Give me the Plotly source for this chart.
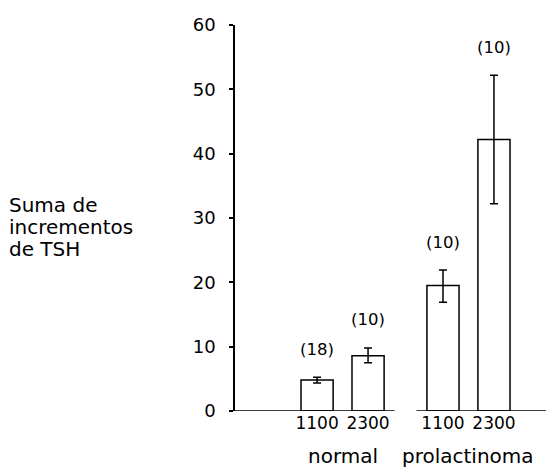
import plotly.graph_objects as go

# ---- data ----
groups = ["normal", "prolactinoma"]
times = ["1100", "2300"]
means_normal = [4.8, 8.6]
means_prolactinoma = [19.5, 42.2]
err_plus_normal = [0.45, 1.2]
err_minus_normal = [0.45, 1.1]
err_plus_prolactinoma = [2.4, 10.0]
err_minus_prolactinoma = [2.6, 10.0]
n_normal = ["(18)", "(10)"]
n_prolactinoma = ["(10)", "(10)"]
y_ticks = [0, 10, 20, 30, 40, 50, 60]
y_title_lines = ["Suma de", "incrementos", "de TSH"]

# ---- layout constants ----
FIRST = 1.61      # centre of first bar (axis units)
WITHIN = 1.0      # spacing of bars within a group
BETWEEN = 2.47    # spacing between groups
BAR_W = 0.63
X_MAX = 6.14
FONT = "DejaVu Sans"

means = [means_normal, means_prolactinoma]
eplus = [err_plus_normal, err_plus_prolactinoma]
eminus = [err_minus_normal, err_minus_prolactinoma]
nlab = [n_normal, n_prolactinoma]

xs, ys, ep, em, labels, ticktext = [], [], [], [], [], []
for g in range(len(groups)):
    for i in range(len(times)):
        xs.append(FIRST + g * BETWEEN + i * WITHIN)
        ys.append(means[g][i])
        ep.append(eplus[g][i])
        em.append(eminus[g][i])
        labels.append(nlab[g][i])
        ticktext.append(times[i])

fig = go.Figure()
fig.add_trace(go.Bar(
    x=xs, y=ys, width=BAR_W,
    marker=dict(color="white", line=dict(color="black", width=1.5)),
    error_y=dict(type="data", symmetric=False, array=ep, arrayminus=em,
                 color="black", thickness=1.5, width=4),
    hoverinfo="skip",
))

# baseline segments (one per group, with a gap between groups)
mid = (xs[len(times) - 1] + xs[len(times)]) / 2
half_gap = 0.215
for x0, x1 in [(0, mid - half_gap), (mid + half_gap, X_MAX)]:
    fig.add_shape(type="line", xref="x", yref="y", x0=x0, x1=x1, y0=0, y1=0,
                  line=dict(color="black", width=1.5))

annotations = []
for k in range(len(xs)):
    annotations.append(dict(x=xs[k], y=ys[k] + ep[k], xref="x", yref="y",
                            text=labels[k], showarrow=False, yshift=28,
                            yanchor="middle",
                            font=dict(family=FONT, size=16.5, color="black")))
for g, name in enumerate(groups):
    cx = (xs[g * len(times)] + xs[g * len(times) + len(times) - 1]) / 2
    annotations.append(dict(x=cx, y=0, xref="x", yref="paper", text=name,
                            showarrow=False, yshift=-45, yanchor="middle",
                            font=dict(family=FONT, size=20, color="black")))
LINE_H = 22
for j, line in enumerate(y_title_lines):
    annotations.append(dict(x=0, y=0.47, xref="paper", yref="paper", text=line,
                            showarrow=False, xanchor="left", yanchor="middle",
                            align="left", xshift=-228,
                            yshift=(1 - j) * LINE_H + 3,
                            font=dict(family=FONT, size=20, color="black")))

fig.update_layout(
    width=546, height=465,
    margin=dict(l=227, r=6, t=12, b=62),
    plot_bgcolor="white", paper_bgcolor="white",
    showlegend=False,
    font=dict(family=FONT, color="black"),
    annotations=annotations,
    xaxis=dict(range=[0, X_MAX], showline=False, showgrid=False, zeroline=False,
               tickvals=xs, ticktext=ticktext, ticks="",
               tickfont=dict(family=FONT, size=17, color="black")),
    yaxis=dict(range=[0, 60], tickvals=y_ticks, showline=True, linecolor="black",
               linewidth=1.5, ticks="outside", ticklen=4, tickwidth=1.5,
               tickcolor="black", showgrid=False, zeroline=False,
               ticklabelstandoff=10,
               tickfont=dict(family=FONT, size=18, color="black")),
)

fig.write_html("out.html")
